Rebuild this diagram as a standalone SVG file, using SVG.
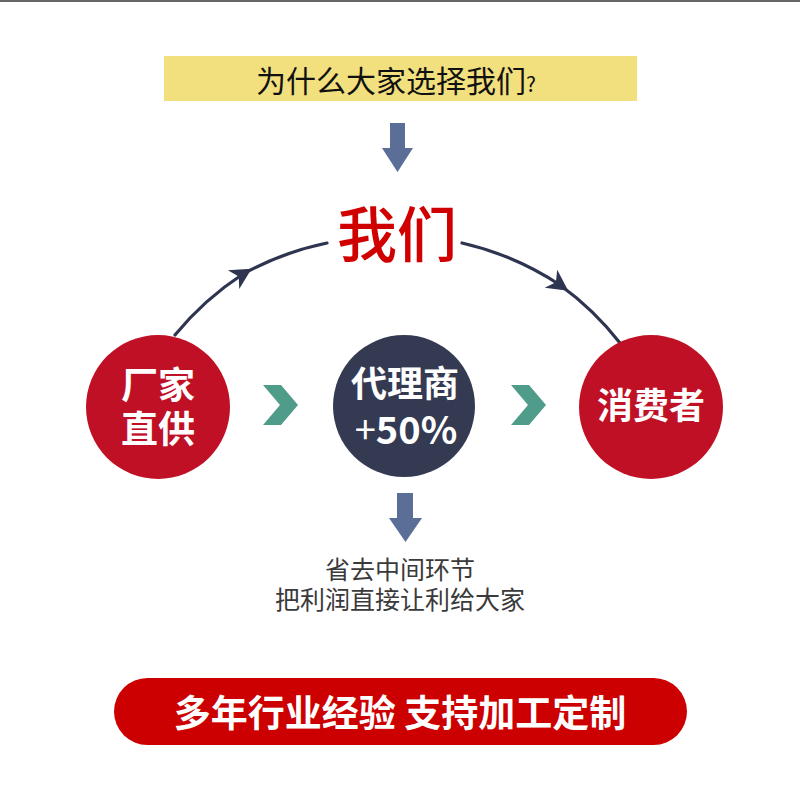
<svg xmlns="http://www.w3.org/2000/svg" width="800" height="792" viewBox="0 0 800 792">
<defs>
<style>
.cjk{font-family:"Noto Sans CJK SC","Noto Sans",sans-serif;}
.wb{fill:#ffffff;font-weight:700;text-anchor:middle;}
.arc{fill:none;stroke:#2f3550;stroke-width:3.2;stroke-linecap:round;marker-mid:url(#barb);}
.down{fill:#5a6e98;}
.chev{fill:#4f9c8b;}
.gray{fill:#3a3a3a;font-size:25px;text-anchor:middle;}
</style>
<marker id="barb" markerUnits="userSpaceOnUse" markerWidth="40" markerHeight="40" refX="20" refY="20" orient="auto" viewBox="0 0 40 40">
<path d="M30,20 L9,9 L15,20 L9,31 Z" fill="#2f3550"/>
</marker>
</defs>
<rect x="0" y="0" width="800" height="792" fill="#ffffff"/>
<rect x="0" y="0" width="800" height="2" fill="#666666"/>

<g id="title">
<rect x="164" y="56" width="473" height="45" fill="#f2df7e"/>
<text class="cjk" x="256" y="92" font-size="30" font-weight="400" fill="#111111">为什么大家选择我们<tspan font-size="21">?</tspan></text>
</g>

<g id="connectors">
<path class="down" d="M390,123 H405 V148 H413 L397.5,172 L382,148 H390 Z"/>
<path class="arc" d="M175,335 A300,300 0 0 1 243,274 A300,300 0 0 1 327,243"/>
<path class="arc" d="M462,243 A300,300 0 0 1 560,285 A300,300 0 0 1 620,343"/>
<polygon class="chev" points="263,385 281,385 298,405 281,425 263,425 280,405"/>
<polygon class="chev" points="511,385 529,385 546,405 529,425 511,425 528,405"/>
<path class="down" d="M397,493 H413 V518 H422 L405.5,542 L389,518 H397 Z"/>
</g>

<g id="us">
<text class="cjk" x="397" y="257" font-size="60" font-weight="500" fill="#d00000" text-anchor="middle">我们</text>
</g>

<g id="factory">
<circle cx="158" cy="407" r="72" fill="#c01026"/>
<text class="cjk wb" x="158" y="399" font-size="37">厂家</text>
<text class="cjk wb" x="158" y="443" font-size="37">直供</text>
</g>

<g id="agent">
<circle cx="404" cy="406" r="71" fill="#343a52"/>
<text class="cjk wb" x="405" y="397" font-size="36">代理商</text>
<text class="cjk wb" x="406" y="444" font-size="38"><tspan font-weight="400">+</tspan>50%</text>
</g>

<g id="consumer">
<circle cx="651" cy="407" r="72" fill="#c01026"/>
<text class="cjk wb" x="651" y="419" font-size="36">消费者</text>
</g>

<g id="note">
<text class="cjk gray" x="400" y="579">省去中间环节</text>
<text class="cjk gray" x="400" y="609">把利润直接让利给大家</text>
</g>

<g id="banner">
<rect x="114" y="678" width="573" height="67" rx="33.5" fill="#cc0000"/>
<text class="cjk wb" x="400" y="727" font-size="37">多年行业经验 支持加工定制</text>
</g>
</svg>
